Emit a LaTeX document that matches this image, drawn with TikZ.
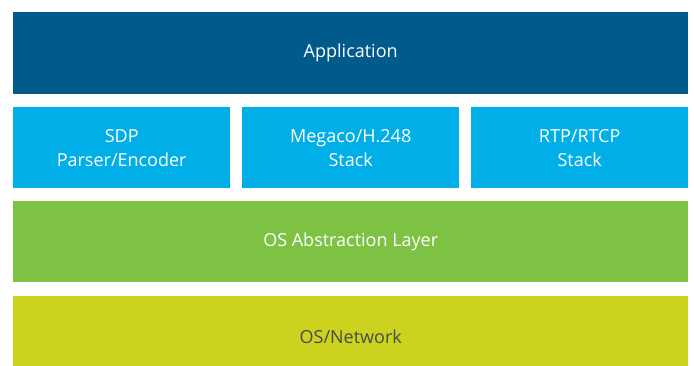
\documentclass[tikz,border=0pt]{standalone}
\usepackage{fontspec}
\setmainfont{Open Sans}
\definecolor{appblue}{HTML}{005A8C}
\definecolor{stackblue}{HTML}{00AEE8}
\definecolor{osalgreen}{HTML}{7DC242}
\definecolor{oslime}{HTML}{CBD31F}
\definecolor{osgray}{HTML}{4A4A4A}
\begin{document}
\begin{tikzpicture}
[x=1pt,y=-1pt,
layer/.style={anchor=north west,inner sep=0pt,minimum width=675pt,minimum height=82pt,
	text=white,align=center,font=\fontsize{18}{24}\selectfont},
stackbox/.style={layer,minimum width=217pt,minimum height=81pt,fill=stackblue}]
\clip (0,0) rectangle (694,365);
\node[layer,fill=appblue] (app) at (13,12) {Application};
\node[stackbox] (sdp) at (13,107) {SDP\\Parser/Encoder};
\node[stackbox] (megaco) at (242,107) {Megaco/H.248\\Stack};
\node[stackbox] (rtp) at (471,107) {RTP/RTCP\\Stack};
\node[layer,fill=osalgreen,minimum height=81pt] (osal) at (13,201) {OS Abstraction Layer};
\node[layer,fill=oslime,text=osgray] (osnet) at (13,296) {OS/Network};
\end{tikzpicture}
\end{document}
